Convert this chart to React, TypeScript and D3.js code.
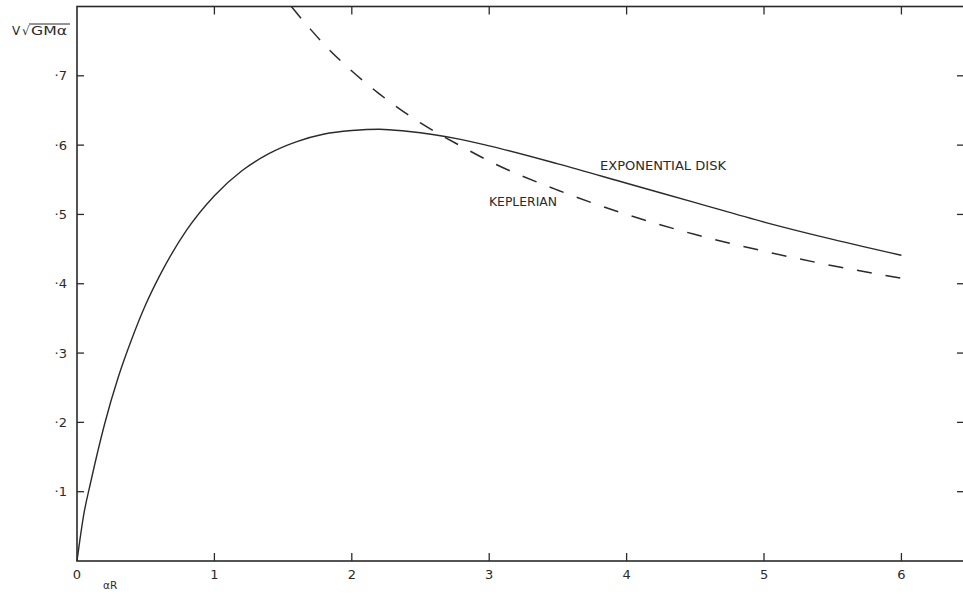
import { useEffect, useRef } from 'react';
import * as d3 from 'd3';

// alpha*R (scale lengths) vs V / sqrt(G M alpha)
const diskR = [0, 0.05, 0.1, 0.2, 0.3, 0.4, 0.5, 0.6, 0.8, 1.0, 1.2, 1.4, 1.6, 1.8, 2.0, 2.2, 2.4, 2.6, 2.8, 3.0, 3.5, 4.0, 4.5, 5.0, 5.5, 6.0];
const diskV = [0, 0.068, 0.114, 0.197, 0.265, 0.321, 0.37, 0.411, 0.478, 0.527, 0.563, 0.588, 0.605, 0.616, 0.621, 0.623, 0.62, 0.615, 0.608, 0.599, 0.573, 0.545, 0.517, 0.489, 0.464, 0.441];

const keplerR = [1.56, 1.7, 1.8, 2.0, 2.2, 2.5, 2.8, 3.0, 3.5, 4.0, 4.5, 5.0, 5.5, 6.0];
const keplerV = [0.8, 0.767, 0.745, 0.707, 0.674, 0.632, 0.598, 0.577, 0.535, 0.5, 0.471, 0.447, 0.426, 0.408];

const xTicks = [0, 1, 2, 3, 4, 5, 6];
const yTicks = [0.1, 0.2, 0.3, 0.4, 0.5, 0.6, 0.7];
const yTickLabels = ['·1', '·2', '·3', '·4', '·5', '·6', '·7'];

const INK = '#2a2a2a';
const FONT = '"DejaVu Sans", "Liberation Sans", sans-serif';

export default function App() {
  const svgRef = useRef<SVGSVGElement>(null);

  useEffect(() => {
    if (!svgRef.current) return;
    const width = 963;
    const height = 594;

    const svg = d3.select(svgRef.current);
    svg.selectAll('*').remove();
    svg.attr('width', width).attr('height', height);

    svg.append('rect').attr('width', width).attr('height', height).attr('fill', '#ffffff');

    const x = d3.scaleLinear().domain([0, 6.47]).range([77, 966]);
    const y = d3.scaleLinear().domain([0, 0.8]).range([561, 6.5]);

    // frame
    svg
      .append('rect')
      .attr('x', x(0))
      .attr('y', y(0.8))
      .attr('width', x(6.47) - x(0))
      .attr('height', y(0) - y(0.8))
      .attr('fill', 'none')
      .attr('stroke', INK)
      .attr('stroke-width', 1.6);

    const inner = xTicks.filter((d) => d > 0);
    // bottom + top ticks
    svg.selectAll('.tb').data(inner).enter().append('line')
      .attr('x1', (d) => x(d)).attr('x2', (d) => x(d))
      .attr('y1', y(0)).attr('y2', y(0) - 8)
      .attr('stroke', INK).attr('stroke-width', 1.3);
    svg.selectAll('.tt').data(inner).enter().append('line')
      .attr('x1', (d) => x(d)).attr('x2', (d) => x(d))
      .attr('y1', y(0.8)).attr('y2', y(0.8) + 8)
      .attr('stroke', INK).attr('stroke-width', 1.3);

    // left + right ticks
    svg.selectAll('.tl').data(yTicks).enter().append('line')
      .attr('x1', x(0)).attr('x2', x(0) + 7)
      .attr('y1', (d) => y(d)).attr('y2', (d) => y(d))
      .attr('stroke', INK).attr('stroke-width', 1.3);
    svg.selectAll('.tr').data(yTicks).enter().append('line')
      .attr('x1', x(6.47)).attr('x2', x(6.47) - 9)
      .attr('y1', (d) => y(d)).attr('y2', (d) => y(d))
      .attr('stroke', INK).attr('stroke-width', 1.3);

    // tick labels
    svg.selectAll('.xl').data(xTicks).enter().append('text')
      .attr('x', (d) => x(d))
      .attr('y', 579)
      .attr('text-anchor', 'middle')
      .attr('font-family', FONT)
      .attr('font-size', '13px')
      .attr('fill', INK)
      .text((d) => d);

    svg.selectAll('.yl').data(yTicks).enter().append('text')
      .attr('x', 67)
      .attr('y', (d) => y(d))
      .attr('dy', '0.36em')
      .attr('text-anchor', 'end')
      .attr('font-family', FONT)
      .attr('font-size', '13px')
      .attr('fill', INK)
      .text((_, i) => yTickLabels[i]);

    // axis titles
    const title = svg.append('g')
      .attr('font-family', FONT)
      .attr('font-size', '12px')
      .attr('fill', INK);
    title.append('text').attr('x', 12).attr('y', 35).text('V');
    title.append('text').attr('x', 22).attr('y', 35).text('√');
    title.append('text')
      .attr('x', 31)
      .attr('y', 35)
      .attr('textLength', 36)
      .attr('lengthAdjust', 'spacingAndGlyphs')
      .text('GMα');
    svg.append('line')
      .attr('x1', 29).attr('x2', 70)
      .attr('y1', 24).attr('y2', 24)
      .attr('stroke', INK).attr('stroke-width', 1);

    svg.append('text')
      .attr('x', 103)
      .attr('y', 589)
      .attr('font-family', FONT)
      .attr('font-size', '10.5px')
      .attr('fill', INK)
      .text('αR');

    const line = d3
      .line<[number, number]>()
      .x((d) => x(d[0]))
      .y((d) => y(d[1]))
      .curve(d3.curveMonotoneX);

    const disk = diskR.map((r, i) => [r, diskV[i]] as [number, number]);
    const kepler = keplerR.map((r, i) => [r, keplerV[i]] as [number, number]);

    svg.append('path')
      .datum(disk)
      .attr('d', line)
      .attr('fill', 'none')
      .attr('stroke', INK)
      .attr('stroke-width', 1.4);

    svg.append('path')
      .datum(kepler)
      .attr('d', line)
      .attr('fill', 'none')
      .attr('stroke', INK)
      .attr('stroke-width', 1.5)
      .attr('stroke-dasharray', '15 14');

    // curve labels
    svg.append('text')
      .attr('x', 600)
      .attr('y', 170)
      .attr('font-family', FONT)
      .attr('font-size', '13px')
      .attr('textLength', 126)
      .attr('lengthAdjust', 'spacingAndGlyphs')
      .attr('fill', INK)
      .text('EXPONENTIAL DISK');

    svg.append('text')
      .attr('x', 489)
      .attr('y', 206)
      .attr('font-family', FONT)
      .attr('font-size', '13px')
      .attr('textLength', 68)
      .attr('lengthAdjust', 'spacingAndGlyphs')
      .attr('fill', INK)
      .text('KEPLERIAN');
  }, []);

  return (
    <svg
      ref={svgRef}
      style={{ position: 'absolute', left: 0, top: 0, display: 'block' }}
      role="img"
      aria-label="Rotation curve of an exponential disk compared with Keplerian"
    />
  );
}
